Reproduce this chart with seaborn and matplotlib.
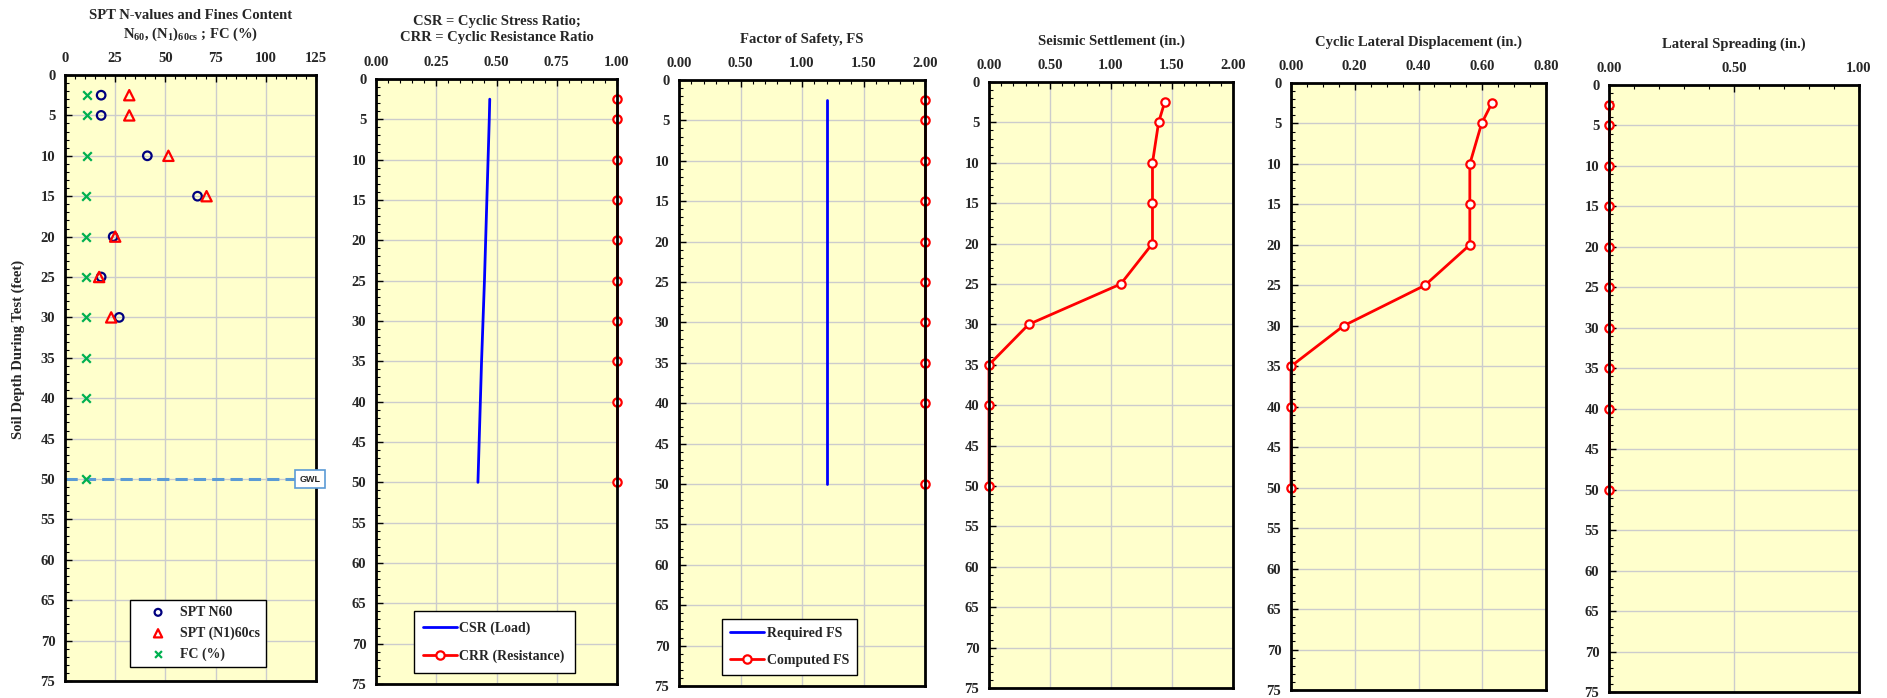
import matplotlib
matplotlib.use("Agg")
import matplotlib.pyplot as plt
from matplotlib.ticker import MultipleLocator
import seaborn as sns

# depths (ft)
depth_spt = [2.5, 5, 10, 15, 20, 25, 30]
depth_all = [2.5, 5, 10, 15, 20, 25, 30, 35, 40, 50]

# panel 1 - SPT and fines content
spt_n60 = [18, 18, 41, 66, 24, 18, 27]
spt_n160cs = [32, 32, 51.5, 70.5, 25, 17, 23]
fines_content = [11, 11, 11, 10.5, 10.5, 10.5, 10.5, 10.5, 10.5, 10.5]
gwl_depth = 50

# panel 2 - CSR / CRR
csr_load = [0.472, 0.47, 0.465, 0.46, 0.455, 0.45, 0.444, 0.438, 0.433, 0.423]
crr_resistance = [1.0, 1.0, 1.0, 1.0, 1.0, 1.0, 1.0, 1.0, 1.0, 1.0]

# panel 3 - factor of safety
fs_required = [1.2, 1.2, 1.2, 1.2, 1.2, 1.2, 1.2, 1.2, 1.2, 1.2]
fs_computed = [2.0, 2.0, 2.0, 2.0, 2.0, 2.0, 2.0, 2.0, 2.0, 2.0]

# panels 4-6
settlement = [1.44, 1.39, 1.34, 1.34, 1.34, 1.08, 0.325, 0, 0, 0]
lateral_disp = [0.63, 0.598, 0.561, 0.561, 0.561, 0.42, 0.165, 0, 0, 0]
lateral_spreading = [0, 0, 0, 0, 0, 0, 0, 0, 0, 0]

titles = [
    "SPT N-values and Fines Content\n"
    r"N$_{\mathrm{60}}$, (N$_{\mathrm{1}}$)$_{\mathrm{60cs}}$ ; FC (%)",
    "CSR = Cyclic Stress Ratio;\nCRR = Cyclic Resistance Ratio",
    "Factor of Safety, FS",
    "Seismic Settlement (in.)",
    "Cyclic Lateral Displacement (in.)",
    "Lateral Spreading (in.)",
]
x_limits = [(0, 125), (0, 1), (0, 2), (0, 2), (0, 0.8), (0, 1)]
x_major = [25, 0.25, 0.5, 0.5, 0.2, 0.5]
x_minor = [5, 0.05, 0.1, 0.1, 0.05, 0.1]
x_fmt = ["{:.0f}", "{:.2f}", "{:.2f}", "{:.2f}", "{:.2f}", "{:.2f}"]

# axes boxes in pixels: left, right, top, bottom
boxes = [(65, 316, 75, 681), (376, 617, 79, 684), (679, 925, 80, 686),
         (989, 1233, 82, 688), (1291, 1546, 83, 690), (1609, 1859, 85, 692)]

sns.set_style("white")
plt.rcParams["font.family"] = ["Liberation Serif", "DejaVu Serif"]
plt.rcParams["font.weight"] = "bold"
plt.rcParams["mathtext.fontset"] = "custom"
plt.rcParams["mathtext.rm"] = "Liberation Serif:bold"
plt.rcParams["mathtext.bf"] = "Liberation Serif:bold"

W, H = 1887, 698
fig = plt.figure(figsize=(W / 100, H / 100), dpi=100)

axes = []
for i, (l, r, t, b) in enumerate(boxes):
    ax = fig.add_axes([l / W, 1 - b / H, (r - l) / W, (b - t) / H])
    ax.set_facecolor("#FFFFCC")
    ax.set_xlim(*x_limits[i])
    ax.set_ylim(75, 0)
    ax.xaxis.set_major_locator(MultipleLocator(x_major[i]))
    ax.xaxis.set_minor_locator(MultipleLocator(x_minor[i]))
    ax.yaxis.set_major_locator(MultipleLocator(5))
    ax.yaxis.set_minor_locator(MultipleLocator(1))
    ax.xaxis.tick_top()
    ticks = ax.get_xticks()
    ax.set_xticks(ticks)
    ax.set_xticklabels([x_fmt[i].format(v) for v in ticks])
    ax.set_xlim(*x_limits[i])
    ax.tick_params(which="both", direction="in", top=True, bottom=False,
                   left=True, right=False, labelsize=10.5, pad=7, color="black")
    ax.tick_params(which="major", length=5, width=1)
    ax.tick_params(which="minor", length=3, width=0.8)
    ax.grid(True, which="major", color="#CCCCCC", linewidth=1)
    ax.set_axisbelow(True)
    for sp in ax.spines.values():
        sp.set_visible(True)
        sp.set_color("black")
        sp.set_linewidth(2)
    for lab in ax.get_xticklabels() + ax.get_yticklabels():
        lab.set_fontweight("bold")
    ax.set_title(titles[i], fontsize=10.5, fontweight="bold", pad=27,
                 linespacing=1.3)
    ax.set_xlabel("")
    ax.set_ylabel("")
    axes.append(ax)

line_kw = dict(sort=False, estimator=None, color="red", linewidth=2,
               marker="o", markersize=6, markerfacecolor="white",
               markeredgecolor="red", markeredgewidth=1.6)

# panel 1
ax = axes[0]
ax.axhline(gwl_depth, color="#5B9BD5", linewidth=2.2, linestyle=(0, (4, 2)),
           zorder=2)
sns.scatterplot(x=spt_n60, y=depth_spt, ax=ax, marker="o", s=38,
                facecolor="none", edgecolor="#00007F", linewidth=1.6,
                label="SPT N60", zorder=4)
sns.scatterplot(x=spt_n160cs, y=depth_spt, ax=ax, marker="^", s=55,
                facecolor="none", edgecolor="red", linewidth=1.6,
                label="SPT (N1)60cs", zorder=4)
sns.scatterplot(x=fines_content, y=depth_all, ax=ax, marker="x", s=38,
                color="#00B050", linewidth=1.6, label="FC (%)", zorder=4)
ax.text(122, gwl_depth, "GWL", ha="center", va="center", fontsize=6.5,
        fontweight="bold", family="Liberation Sans", clip_on=False, zorder=6,
        bbox=dict(boxstyle="square,pad=0.45", facecolor="white",
                  edgecolor="#5B9BD5", linewidth=1.2))
ax.legend(loc="lower center", bbox_to_anchor=(0.53, 0.012), fontsize=10,
          frameon=True, fancybox=False, edgecolor="black", framealpha=1,
          handlelength=3.2, handletextpad=0.0, labelspacing=0.55,
          borderpad=0.4, markerscale=0.8)
ax.get_legend().get_frame().set_linewidth(1)

# panel 2
ax = axes[1]
sns.lineplot(x=csr_load, y=depth_all, ax=ax, sort=False, estimator=None,
             color="blue", linewidth=2, label="CSR (Load)")
sns.lineplot(x=crr_resistance, y=depth_all, ax=ax, label="CRR (Resistance)",
             **line_kw)
ax.legend(loc="lower center", bbox_to_anchor=(0.49, 0.018), fontsize=10,
          frameon=True, fancybox=False, edgecolor="black", framealpha=1,
          handlelength=2.4, handletextpad=0.2, labelspacing=1.1,
          borderpad=0.7, borderaxespad=0)
for a in axes[1].get_lines():
    a.set_clip_on(False)

# panel 3
ax = axes[2]
sns.lineplot(x=fs_required, y=depth_all, ax=ax, sort=False, estimator=None,
             color="blue", linewidth=2, label="Required FS")
sns.lineplot(x=fs_computed, y=depth_all, ax=ax, label="Computed FS", **line_kw)
ax.legend(loc="lower center", bbox_to_anchor=(0.45, 0.018), fontsize=10,
          frameon=True, fancybox=False, edgecolor="black", framealpha=1,
          handlelength=2.4, handletextpad=0.2, labelspacing=1.0,
          borderpad=0.6, borderaxespad=0)

# panels 4-6
sns.lineplot(x=settlement, y=depth_all, ax=axes[3], **line_kw)
sns.lineplot(x=lateral_disp, y=depth_all, ax=axes[4], **line_kw)
sns.lineplot(x=lateral_spreading, y=depth_all, ax=axes[5], **line_kw)

for ax in axes:
    for ln in ax.get_lines():
        ln.set_clip_on(False)
    ax.set_xlabel("")
    ax.set_ylabel("")
for ax in axes[1:]:
    leg = ax.get_legend()
    if leg is not None:
        leg.get_frame().set_linewidth(1)

fig.text(18 / W, 1 - 349 / H, "Soil Depth During Test (feet)", rotation=90,
         ha="center", va="center", fontsize=10.5, fontweight="bold")

fig.savefig("out.png", dpi=100)
